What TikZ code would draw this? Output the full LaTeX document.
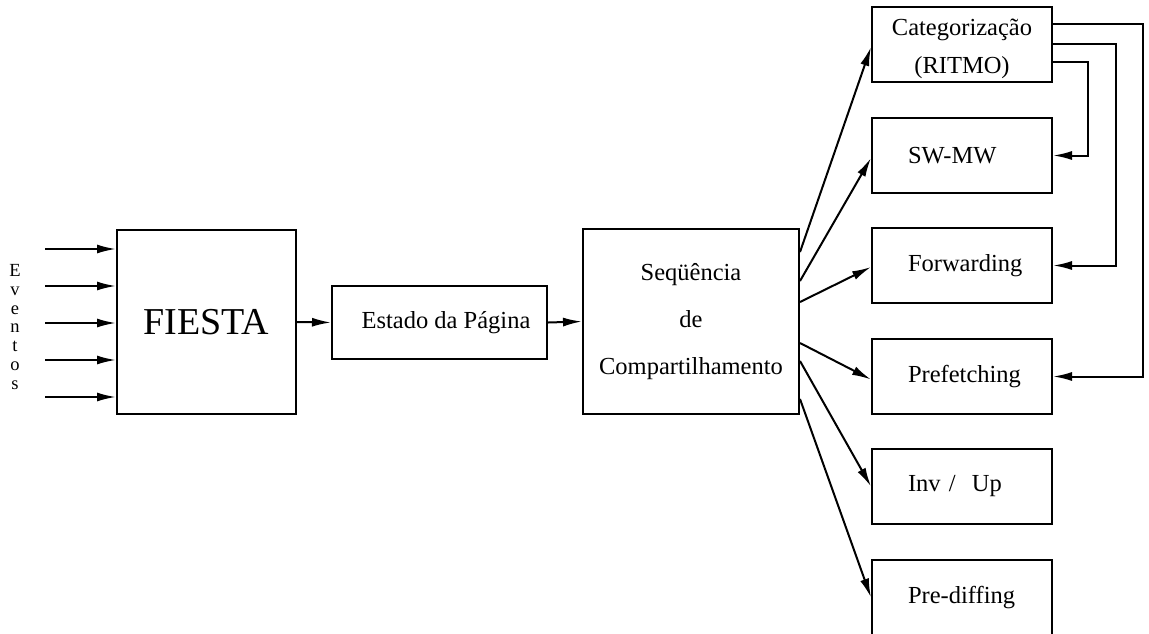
\documentclass[tikz,border=0pt]{standalone}
\usepackage{fontspec}
\setmainfont{Liberation Serif}
\usetikzlibrary{arrows.meta,calc}
\begin{document}
\begin{tikzpicture}[x=1pt,y=-1pt,
  line width=2pt,
  arr/.style={-{Latex[length=19pt,width=9pt]}},
  block/.style={draw,inner sep=0pt,align=center,font=\fontsize{24.5}{47}\selectfont},
  sidebox/.style={draw,minimum height=75pt,text width=108pt,inner xsep=36pt,inner ysep=0pt,
    align=left,font=\fontsize{24.5}{37}\selectfont}]
\useasboundingbox (0,0) rectangle (1149,633);

% main chain
\node[block,minimum width=179pt,minimum height=184pt,font=\fontsize{38}{40}\selectfont] (fiesta) at (206.5,322) {FIESTA};
\node[block,minimum width=215pt,minimum height=73pt] (estado) at (439.5,322.5) {\hspace*{13pt}Estado da Página};
\node[block,minimum width=216pt,minimum height=185pt] (seq) at (691,321.5) {Seqüência\\de\\Compartilhamento};

% output boxes
\node[draw,minimum width=180pt,minimum height=75pt,inner sep=0pt] (cat) at (962,44.5) {};
\node[align=center,inner sep=0pt,font=\fontsize{24.5}{38}\selectfont] (catlabel)
  at ($(cat.center)+(0,4)$) {Categorização\\(RITMO)};
\node[sidebox] (sw)   at (962,155.5) {SW-MW};
\node[sidebox] (fwd)  at (962,265.5) {Forwarding};
\node[sidebox] (pref) at (962,376.5) {Prefetching};
\node[sidebox] (inv)  at (962,486.5) {Inv /\ \ Up};
\node[sidebox] (pdf)  at (962,597.5) {Pre-diffing};

% input events
\node[align=center,inner sep=0pt,font=\fontsize{18.5}{18.7}\selectfont] (eventos) at (15,327) {E\\v\\e\\n\\t\\o\\s};
\foreach \i/\yy in {1/249,2/286,3/323,4/360,5/397}{
  \coordinate (ev\i) at (45,\yy);
  \draw[arr] (ev\i) -- (ev\i -| fiesta.west);
}

\draw[arr] (fiesta.east) -- (estado.west);
\draw[arr] (estado.east) -- (seq.west);

% fan-out
\draw[arr] ($(seq.north east)+(0,24)$)  -- ($(cat.west)+(0,2.5)$);
\draw[arr] ($(seq.north east)+(0,53)$)  -- ($(sw.west)+(0,2.5)$);
\draw[arr] ($(seq.north east)+(0,74)$)  -- ($(fwd.west)+(0,1.5)$);
\draw[arr] ($(seq.north east)+(0,115)$) -- ($(pref.west)+(0,3)$);
\draw[arr] ($(seq.north east)+(0,133)$) -- (inv.west);
\draw[arr] ($(seq.north east)+(0,171)$) -- (pdf.west);

% feedback from the categorizer
\draw[arr] ($(cat.north east)+(0,18)$) -- ++(90,0) |- (pref.east);
\draw[arr] ($(cat.north east)+(0,38)$) -- ++(63,0) |- (fwd.east);
\draw[arr] ($(cat.north east)+(0,56)$) -- ++(35,0) |- (sw.east);
\end{tikzpicture}
\end{document}
